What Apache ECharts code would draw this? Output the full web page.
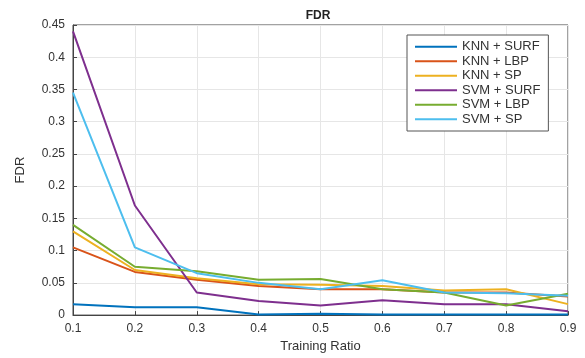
<!DOCTYPE html>
<html>
<head>
<meta charset="utf-8">
<script src="https://cdn.jsdelivr.net/npm/echarts@6/dist/echarts.min.js"></script>
<style>
  html, body { margin: 0; padding: 0; background: #fff; }
  #chart { width: 585px; height: 358px; }
</style>
</head>
<body>
<div id="chart"></div>
<script>
var ratios = [0.1, 0.2, 0.3, 0.4, 0.5, 0.6, 0.7, 0.8, 0.9];

var knnSurf = [0.017, 0.012, 0.012, 0.001, 0.002, 0.001, 0.001, 0.001, 0.001];
var knnLbp  = [0.105, 0.067, 0.055, 0.045, 0.040, 0.040, 0.035, 0.035, 0.029];
var knnSp   = [0.130, 0.070, 0.057, 0.048, 0.047, 0.045, 0.038, 0.040, 0.017];
var svmSurf = [0.440, 0.170, 0.035, 0.022, 0.015, 0.023, 0.017, 0.017, 0.006];
var svmLbp  = [0.140, 0.075, 0.068, 0.055, 0.056, 0.040, 0.035, 0.015, 0.033];
var svmSp   = [0.345, 0.105, 0.065, 0.050, 0.040, 0.054, 0.035, 0.034, 0.030];

var names  = ['KNN + SURF', 'KNN + LBP', 'KNN + SP', 'SVM + SURF', 'SVM + LBP', 'SVM + SP'];
var values = [knnSurf, knnLbp, knnSp, svmSurf, svmLbp, svmSp];
var colors = ['#0072BD', '#D95319', '#EDB120', '#7E2F8E', '#77AC30', '#4DBEEE'];

var chart = echarts.init(document.getElementById('chart'));

var series = [];
for (let i = 0; i < names.length; i++) {
  series.push({
    name: names[i],
    type: 'line',
    data: ratios.map(function (r, j) { return [r, values[i][j]]; }),
    symbol: 'none',
    lineStyle: { width: 2, color: colors[i] },
    itemStyle: { color: colors[i] }
  });
}

var axisCommon = {
  axisLine: { show: true, lineStyle: { color: '#444', width: 1 } },
  axisTick: { show: true, inside: true, length: 4, lineStyle: { color: '#444' } },
  axisLabel: { color: '#333', fontSize: 12, fontFamily: 'Liberation Sans' },
  splitLine: { show: true, lineStyle: { color: '#e6e6e6', width: 1 } }
};

var option = {
  animation: false,
  title: {
    text: 'FDR',
    left: 313,
    top: 5,
    textAlign: 'center',
    textStyle: { fontSize: 12, fontWeight: 'bold', color: '#222', fontFamily: 'Liberation Sans' }
  },
  grid: { left: 73, right: 17, top: 25, bottom: 40, show: true, borderColor: '#444', borderWidth: 1 },
  legend: {
    orient: 'vertical',
    left: 407,
    top: 35,
    itemWidth: 42,
    itemHeight: 2,
    itemGap: 1,
    padding: [5, 8, 5, 8],
    borderColor: '#555',
    borderWidth: 1,
    backgroundColor: '#fff',
    icon: 'rect',
    textStyle: { fontSize: 13, lineHeight: 13.5, color: '#333', fontFamily: 'Liberation Sans' },
    data: names
  },
  xAxis: Object.assign({
    type: 'value',
    min: 0.1,
    max: 0.9,
    interval: 0.1,
    name: 'Training Ratio',
    nameLocation: 'middle',
    nameGap: 23,
    nameTextStyle: { fontSize: 13, color: '#333', fontFamily: 'Liberation Sans' }
  }, axisCommon),
  yAxis: Object.assign({
    type: 'value',
    min: 0,
    max: 0.45,
    interval: 0.05,
    name: 'FDR',
    nameLocation: 'middle',
    nameGap: 46,
    nameTextStyle: { fontSize: 13, color: '#333', fontFamily: 'Liberation Sans' }
  }, axisCommon),
  series: series
};

chart.setOption(option);
</script>
</body>
</html>
